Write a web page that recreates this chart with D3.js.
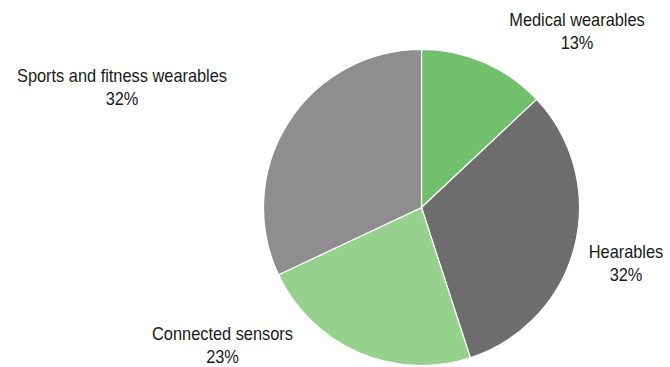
<!DOCTYPE html>
<html>
<head>
<meta charset="utf-8">
<script src="https://cdn.jsdelivr.net/npm/d3@7/dist/d3.min.js"></script>
<style>
  html, body { margin: 0; padding: 0; background: #fff; }
  svg { display: block; }
  text { font-family: "Liberation Sans", Arial, sans-serif; fill: #1a1a1a; }
</style>
</head>
<body>
<svg id="chart" width="670" height="367"></svg>
<script>
// Wearables market share by segment
const categories = ["Medical wearables", "Hearables", "Connected sensors", "Sports and fitness wearables"];
const shares = [13, 32, 23, 32];
const colors = ["#72c06b", "#6d6d6d", "#97d18e", "#8e8e8e"];

const width = 670, height = 367;
const cx = 421.5, cy = 207.5, radius = 158;

// label anchors (centre x, first-line baseline y)
const labelAnchor = {
  "Medical wearables": [577, 25.5],
  "Hearables": [626, 257.5],
  "Connected sensors": [222.5, 339.5],
  "Sports and fitness wearables": [122, 81.5]
};

const svg = d3.select("#chart");

const data = categories.map((c, i) => ({ name: c, value: shares[i], color: colors[i] }));

const pie = d3.pie().value(d => d.value).sort(null);
const arc = d3.arc().innerRadius(0).outerRadius(radius);

const g = svg.append("g").attr("transform", `translate(${cx},${cy})`);

g.selectAll("path")
  .data(pie(data))
  .join("path")
  .attr("d", arc)
  .attr("fill", d => d.data.color)
  .attr("stroke", "#fff")
  .attr("stroke-width", 1.2);

// condensed-looking labels: full-height glyphs, narrowed horizontally
const labels = svg.append("g");
data.forEach(d => {
  const [x, y] = labelAnchor[d.name];
  const t = labels.append("text")
    .attr("text-anchor", "middle")
    .attr("font-size", 18)
    .attr("transform", `translate(${x},${y}) scale(0.91,1)`);
  t.append("tspan").attr("x", 0).attr("y", 0).text(d.name);
  t.append("tspan").attr("x", 0).attr("y", 24).text(d.value + "%");
});
</script>
</body>
</html>
